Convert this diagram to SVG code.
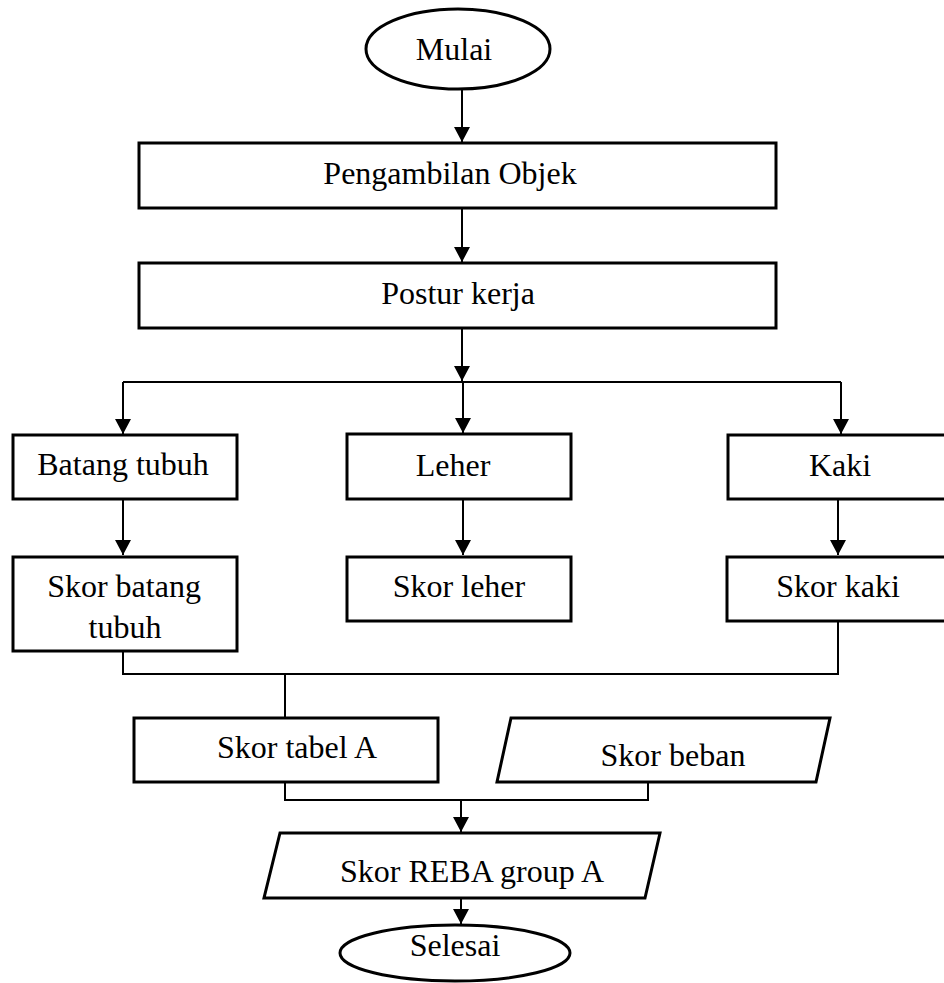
<svg xmlns="http://www.w3.org/2000/svg" width="944" height="983" viewBox="0 0 944 983">
<style>
.box{fill:#fff;stroke:#000;stroke-width:3}
.ln{fill:none;stroke:#000;stroke-width:2}
text{font-family:"Liberation Serif","Times New Roman",serif;font-size:32px;fill:#000;text-anchor:middle}
</style>
<defs>
<marker id="ah" markerUnits="userSpaceOnUse" markerWidth="16" markerHeight="16" refX="15" refY="8" orient="auto">
<path d="M0,0 L15,8 L0,16 Z" fill="#000"/>
</marker>
</defs>
<rect width="944" height="983" fill="#fff"/>
<g id="connectors">
<line class="ln" x1="462" y1="89" x2="462" y2="142" marker-end="url(#ah)"/>
<line class="ln" x1="462" y1="208" x2="462" y2="262" marker-end="url(#ah)"/>
<line class="ln" x1="462" y1="328" x2="462" y2="381" marker-end="url(#ah)"/>
<path class="ln" d="M123,382 H838 M841,382 H838"/>
<line class="ln" x1="123" y1="382" x2="123" y2="434" marker-end="url(#ah)"/>
<line class="ln" x1="463" y1="382" x2="463" y2="433" marker-end="url(#ah)"/>
<line class="ln" x1="841" y1="382" x2="841" y2="434" marker-end="url(#ah)"/>
<line class="ln" x1="123" y1="499" x2="123" y2="555" marker-end="url(#ah)"/>
<line class="ln" x1="463" y1="499" x2="463" y2="555" marker-end="url(#ah)"/>
<line class="ln" x1="838" y1="499" x2="838" y2="555" marker-end="url(#ah)"/>
<path class="ln" d="M123,651 V674 H838 V621"/>
<line class="ln" x1="285" y1="674" x2="285" y2="718"/>
<path class="ln" d="M285,782 V800 H648 V782"/>
<line class="ln" x1="461" y1="800" x2="461" y2="832" marker-end="url(#ah)"/>
<line class="ln" x1="461" y1="898" x2="461" y2="924" marker-end="url(#ah)"/>
</g>
<g id="mulai"><ellipse class="box" cx="458" cy="49" rx="92" ry="40"/><text x="454" y="60">Mulai</text></g>
<g id="pengambilan"><rect class="box" x="139" y="143" width="637" height="65"/><text x="450" y="184">Pengambilan Objek</text></g>
<g id="postur"><rect class="box" x="139" y="263" width="637" height="65"/><text x="458" y="304">Postur kerja</text></g>
<g id="batang"><rect class="box" x="13" y="435" width="224" height="64"/><text x="123" y="475">Batang tubuh</text></g>
<g id="leher"><rect class="box" x="347" y="434" width="224" height="65"/><text x="453" y="476">Leher</text></g>
<g id="kaki"><rect class="box" x="728" y="435" width="230" height="64"/><text x="840" y="476">Kaki</text></g>
<g id="skor-batang"><rect class="box" x="13" y="557" width="224" height="94"/><text x="124" y="597">Skor batang</text><text x="125" y="638">tubuh</text></g>
<g id="skor-leher"><rect class="box" x="347" y="557" width="224" height="64"/><text x="459" y="597">Skor leher</text></g>
<g id="skor-kaki"><rect class="box" x="727" y="557" width="230" height="64"/><text x="838" y="597">Skor kaki</text></g>
<g id="skor-tabel-a"><rect class="box" x="134" y="718" width="304" height="64"/><text x="297" y="758">Skor tabel A</text></g>
<g id="skor-beban"><polygon class="box" points="511,718 830,718 816,782 497,782"/><text x="673" y="766">Skor beban</text></g>
<g id="skor-reba"><polygon class="box" points="280,833 660,833 645,898 264,898"/><text x="472" y="882">Skor REBA group A</text></g>
<g id="selesai"><ellipse class="box" cx="455" cy="953" rx="115" ry="28"/><text x="455" y="956">Selesai</text></g>
</svg>
